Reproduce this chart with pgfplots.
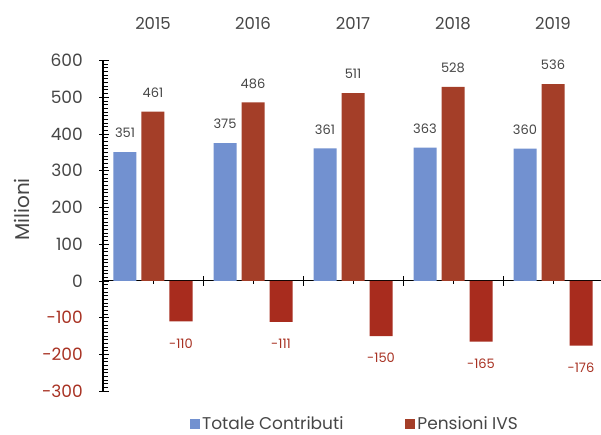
\documentclass[border=0pt]{standalone}
\usepackage{fontspec}
\setmainfont{Poppins}
\usepackage{pgfplots}
\pgfplotsset{compat=1.18}
\definecolor{cblue}{RGB}{114,145,208}
\definecolor{cred}{RGB}{164,62,40}
\definecolor{cneg}{RGB}{168,44,30}
\definecolor{txt}{RGB}{70,70,70}
\definecolor{negtxt}{RGB}{168,50,35}
\begin{document}
\begin{tikzpicture}
\useasboundingbox (-153pt,-154pt) rectangle (448pt,281pt);
\begin{axis}[
  at={(0pt,0pt)}, anchor=origin,
  x=100pt, y=0.3675pt,
  xmin=-0.5, xmax=4.48, ymin=-300, ymax=600,
  axis x line=middle, axis y line=left,
  x axis line style={-, line width=1pt},
  y axis line style={-, line width=1.2pt},
  ybar, bar width=23pt,
  ytick={-300,-200,...,600},
  yticklabels={\textcolor{negtxt}{-300},\textcolor{negtxt}{-200},\textcolor{negtxt}{-100},0,100,200,300,400,500,600},
  minor ytick={-290,-280,...,590},
  xtick={0.5,1.5,2.5,3.5}, xticklabels={},
  minor xtick={0,1,2,3,4},
  tick align=center,
  major tick length=10pt, minor tick length=6pt,
  tick style={black, line width=0.9pt},
  minor tick style={black, line width=0.8pt},
  minor y tick style={xshift=2.5pt},
  major y tick style={xshift=1.5pt},
  yticklabel style={font=\fontsize{17}{17}\selectfont, text=txt, anchor=east, inner sep=0pt, xshift=-15pt},
  ylabel={Milioni},
  every axis y label/.style={at={(axis description cs:-0.163,0.55)}, rotate=90, anchor=center, font=\fontsize{20}{20}\selectfont, text=txt},
  /pgf/number format/assume math mode=true,
  clip=false,
  legend style={at={(0.506,-0.098)}, anchor=center, draw=none, fill=none,
    legend columns=2, font=\fontsize{17}{17}\selectfont, text=txt,
    /tikz/every even column/.append style={column sep=60pt}},
  legend cell align=left,
  legend image code/.code={\fill[#1] (0pt,-5pt) rectangle (10pt,5pt);},
]
\addplot[fill=cblue, draw=none, bar shift=-28pt,
  nodes near coords, nodes near coords style={anchor=center, yshift=19pt, font=\fontsize{13}{13}\selectfont, text=txt}]
  coordinates {(0,351) (1,375) (2,361) (3,363) (4,360)};
\addlegendentry{Totale Contributi}
\addplot[fill=cred, draw=none, bar shift=0pt,
  nodes near coords, nodes near coords style={anchor=center, yshift=19pt, font=\fontsize{13}{13}\selectfont, text=txt}]
  coordinates {(0,461) (1,486) (2,511) (3,528) (4,536)};
\addlegendentry{Pensioni IVS}
\addplot[fill=cneg, draw=none, bar shift=28pt, forget plot,
  nodes near coords, nodes near coords style={anchor=center, yshift=-22pt, font=\fontsize{13}{13}\selectfont, text=negtxt}]
  coordinates {(0,-110) (1,-111) (2,-150) (3,-165) (4,-176)};
\foreach \i/\yr in {0/2015,1/2016,2/2017,3/2018,4/2019}{
  \edef\tmp{\noexpand\node[font=\noexpand\fontsize{16.5}{16.5}\noexpand\selectfont, text=txt] at (axis cs:\i,700) {\yr};}
  \tmp
}
\end{axis}
\end{tikzpicture}
\end{document}
